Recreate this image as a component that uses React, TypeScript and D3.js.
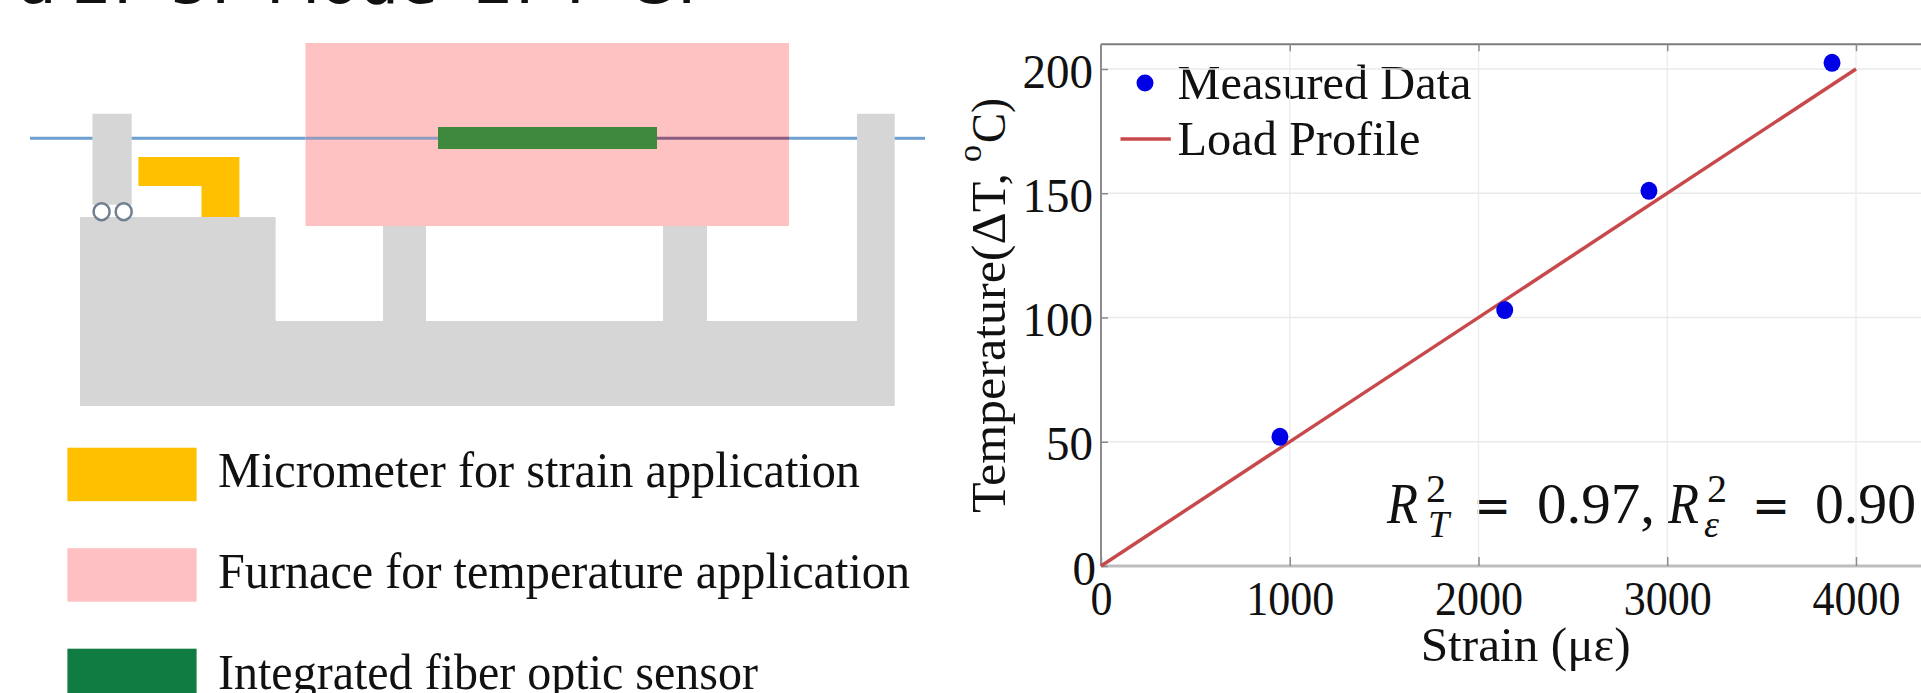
import React, { useEffect, useRef } from 'react';
import * as d3 from 'd3';

// measured points
const strainValues = [948, 2139, 2903, 3873];
const temperatureValues = [52, 103, 151, 202.5];

// load profile end points
const profileStrain = [0, 4000];
const profileTemperature = [0, 200];

const xTicks = [0, 1000, 2000, 3000, 4000];
const yTicks = [0, 50, 100, 150, 200];

const legendItems = [
  { label: 'Micrometer for strain application', color: '#ffc000', length: 642 },
  { label: 'Furnace for temperature application', color: '#ffc0c3', length: 692 },
  { label: 'Integrated fiber optic sensor', color: '#107c41', length: 540 },
];

const clippedTitle = [
  { text: 'a', x: 18 },
  { text: '2:', x: 72 },
  { text: '5:', x: 170 },
  { text: 'Mode', x: 266 },
  { text: '2:', x: 474 },
  { text: 'F-G:', x: 566 },
];

const W = 1921;
const H = 693;
const SERIF = '"Liberation Serif", serif';
const TEXT_COLOR = '#111';

function App() {
  const svgRef = useRef<SVGSVGElement>(null);

  useEffect(() => {
    const svg = d3.select(svgRef.current);
    svg.selectAll('.plot').remove();
    const g = svg.append('g').attr('class', 'plot');

    // 0-4000 sits at 1101-1856, the right side runs off the picture
    const x = d3.scaleLinear().domain([0, 4000]).range([1101, 1856]);
    const y = d3.scaleLinear().domain([0, 200]).range([566, 69]);
    const top = y(210);
    const right = W;

    // Grid
    g.selectAll('.vgrid').data(xTicks.slice(1)).enter().append('line')
      .attr('x1', d => x(d)).attr('x2', d => x(d))
      .attr('y1', top).attr('y2', y(0))
      .attr('stroke', '#eeeeee').attr('stroke-width', 1.5);
    g.selectAll('.hgrid').data(yTicks.slice(1)).enter().append('line')
      .attr('x1', x(0)).attr('x2', right)
      .attr('y1', d => y(d)).attr('y2', d => y(d))
      .attr('stroke', '#eaeaea').attr('stroke-width', 1.5);

    // Frame lines
    g.append('line').attr('x1', x(0)).attr('x2', right).attr('y1', top).attr('y2', top)
      .attr('stroke', '#7d7d7d').attr('stroke-width', 2);
    g.append('line').attr('x1', x(0)).attr('x2', x(0)).attr('y1', top).attr('y2', y(0))
      .attr('stroke', '#8c8c8c').attr('stroke-width', 2);
    g.append('line').attr('x1', x(0)).attr('x2', right).attr('y1', y(0)).attr('y2', y(0))
      .attr('stroke', '#bdbdbd').attr('stroke-width', 3);

    // Axes, ticks pointing inward
    const xAxis = g.append('g').attr('transform', `translate(0,${y(0)})`)
      .call(d3.axisBottom(x).tickValues(xTicks).tickSize(-9).tickPadding(14).tickFormat(d3.format('d')));
    const xAxisTop = g.append('g').attr('transform', `translate(0,${top})`)
      .call(d3.axisTop(x).tickValues(xTicks.slice(1)).tickSize(-7).tickFormat(() => ''));
    const yAxis = g.append('g').attr('transform', `translate(${x(0)},0)`)
      .call(d3.axisLeft(y).tickValues(yTicks).tickSize(-7).tickPadding(8).tickFormat(d3.format('d')));

    [xAxis, xAxisTop, yAxis].forEach(a => {
      a.select('.domain').remove();
      a.selectAll('line').attr('stroke', '#8c8c8c').attr('stroke-width', 1.5);
    });
    // tick digits are narrow in the source, so squeeze them a bit
    xAxis.selectAll('text')
      .style('font-family', SERIF).style('font-size', '49px').attr('fill', TEXT_COLOR)
      .attr('textLength', d => String(d).length * 22)
      .attr('lengthAdjust', 'spacingAndGlyphs');
    yAxis.selectAll('text')
      .style('font-family', SERIF).style('font-size', '49px').attr('fill', TEXT_COLOR)
      .attr('dy', '0.37em')
      .attr('textLength', d => String(d).length * 23.5)
      .attr('lengthAdjust', 'spacingAndGlyphs');
    yAxis.selectAll('.tick').filter(d => d === 0).select('text').attr('x', -5);

    // Load profile
    const line = d3.line<number>()
      .x(d => x(d))
      .y((d, i) => y(profileTemperature[i]));
    g.append('path')
      .attr('d', line(profileStrain))
      .attr('fill', 'none')
      .attr('stroke', '#c8494b')
      .attr('stroke-width', 3.5);

    // Measured points
    g.selectAll('.pt').data(strainValues).enter().append('ellipse')
      .attr('cx', d => x(d))
      .attr('cy', (d, i) => y(temperatureValues[i]))
      .attr('rx', 8.5)
      .attr('ry', 9)
      .attr('fill', '#0000e6');
  }, []);

  return (
    <svg ref={svgRef} width={W} height={H} style={{ position: 'absolute', left: 0, top: 0 }}>
      <rect width={W} height={H} fill="#fff" />

      {/* heading cut off by the crop */}
      <g fontFamily='"DejaVu Sans", sans-serif' fontSize={63} fill={TEXT_COLOR}>
        {clippedTitle.map((t, i) => (
          <text key={i} x={t.x} y={3}>{t.text}</text>
        ))}
      </g>

      {/* test rig schematic */}
      <path
        d="M80 217H275.6V321H383V226H426V321H663V226H707V321H857V113.7H894.7V406H80Z"
        fill="#d6d6d6"
      />
      <rect x={92.5} y={113.7} width={39.2} height={91} fill="#d6d6d6" />
      <line x1={30} x2={92.5} y1={138.3} y2={138.3} stroke="#6d9fd0" strokeWidth={3} />
      <line x1={131.7} x2={305.5} y1={138.3} y2={138.3} stroke="#6d9fd0" strokeWidth={3} />
      <line x1={789} x2={857} y1={138.3} y2={138.3} stroke="#6d9fd0" strokeWidth={3} />
      <line x1={894.7} x2={925} y1={138.3} y2={138.3} stroke="#6d9fd0" strokeWidth={3} />
      <rect x={305.5} y={43} width={483.5} height={183} fill="#ffc2c2" />
      <line x1={305.5} x2={438} y1={138.3} y2={138.3} stroke="#8f9cc0" strokeWidth={3} />
      <line x1={657} x2={789} y1={138.3} y2={138.3} stroke="#8a5c80" strokeWidth={3} />
      <rect x={438} y={127} width={219} height={22} fill="#3f893f" />
      <path d="M138.4 157H239.4V217H201.5V186H138.4Z" fill="#ffc000" />
      <ellipse cx={101.6} cy={211.7} rx={8} ry={8.5} fill="#fff" stroke="#6f7f90" strokeWidth={2.5} />
      <ellipse cx={123.7} cy={211.7} rx={8} ry={8.5} fill="#fff" stroke="#6f7f90" strokeWidth={2.5} />

      {/* schematic legend */}
      {legendItems.map((item, i) => (
        <g key={item.label}>
          <rect x={67.4} y={447.7 + i * 100.5} width={129.2} height={53.5} fill={item.color} />
          <text
            x={218}
            y={487 + i * 101}
            fontFamily={SERIF}
            fontSize={50}
            fill={TEXT_COLOR}
            textLength={item.length}
            lengthAdjust="spacingAndGlyphs"
          >
            {item.label}
          </text>
        </g>
      ))}

      {/* y axis title */}
      <g transform="translate(1005,513) rotate(-90)" fontFamily={SERIF} fontSize={49} fill={TEXT_COLOR}>
        <text textLength={340} lengthAdjust="spacingAndGlyphs">Temperature(ΔT,</text>
        <text x={351} y={-24} fontSize={34}>o</text>
        <text x={370} textLength={45} lengthAdjust="spacingAndGlyphs">C)</text>
      </g>

      <text x={1420.7} y={661} fontFamily={SERIF} fontSize={49} fill={TEXT_COLOR}
        textLength={210} lengthAdjust="spacingAndGlyphs">
        Strain (με)
      </text>

      {/* plot legend */}
      <g fontFamily={SERIF} fontSize={49} fill={TEXT_COLOR}>
        <circle cx={1145} cy={83} r={8.5} fill="#0000e6" />
        <text x={1177.5} y={99} textLength={294} lengthAdjust="spacingAndGlyphs">Measured Data</text>
        <line x1={1120.5} x2={1170.8} y1={139} y2={139} stroke="#c8494b" strokeWidth={3.5} />
        <text x={1177.5} y={155} textLength={243} lengthAdjust="spacingAndGlyphs">Load Profile</text>
      </g>

      {/* fit quality note */}
      <g fontFamily={SERIF} fontSize={58} fill={TEXT_COLOR}>
        <text x={1387} y={523} fontStyle="italic" textLength={31} lengthAdjust="spacingAndGlyphs">R</text>
        <text x={1426} y={502} fontSize={40}>2</text>
        <text x={1428} y={537} fontSize={38} fontStyle="italic">T</text>
        <text x={1473} y={523} fontFamily='"DejaVu Sans", sans-serif' fontSize={50} textLength={38} lengthAdjust="spacingAndGlyphs">=</text>
        <text x={1537} y={523} textLength={118} lengthAdjust="spacingAndGlyphs">0.97,</text>
        <text x={1668} y={523} fontStyle="italic" textLength={31} lengthAdjust="spacingAndGlyphs">R</text>
        <text x={1707} y={502} fontSize={40}>2</text>
        <text x={1704} y={537} fontSize={38} fontStyle="italic">ε</text>
        <text x={1752} y={523} fontFamily='"DejaVu Sans", sans-serif' fontSize={50} textLength={38} lengthAdjust="spacingAndGlyphs">=</text>
        <text x={1815} y={523} textLength={101} lengthAdjust="spacingAndGlyphs">0.90</text>
      </g>
    </svg>
  );
}

export default App;
